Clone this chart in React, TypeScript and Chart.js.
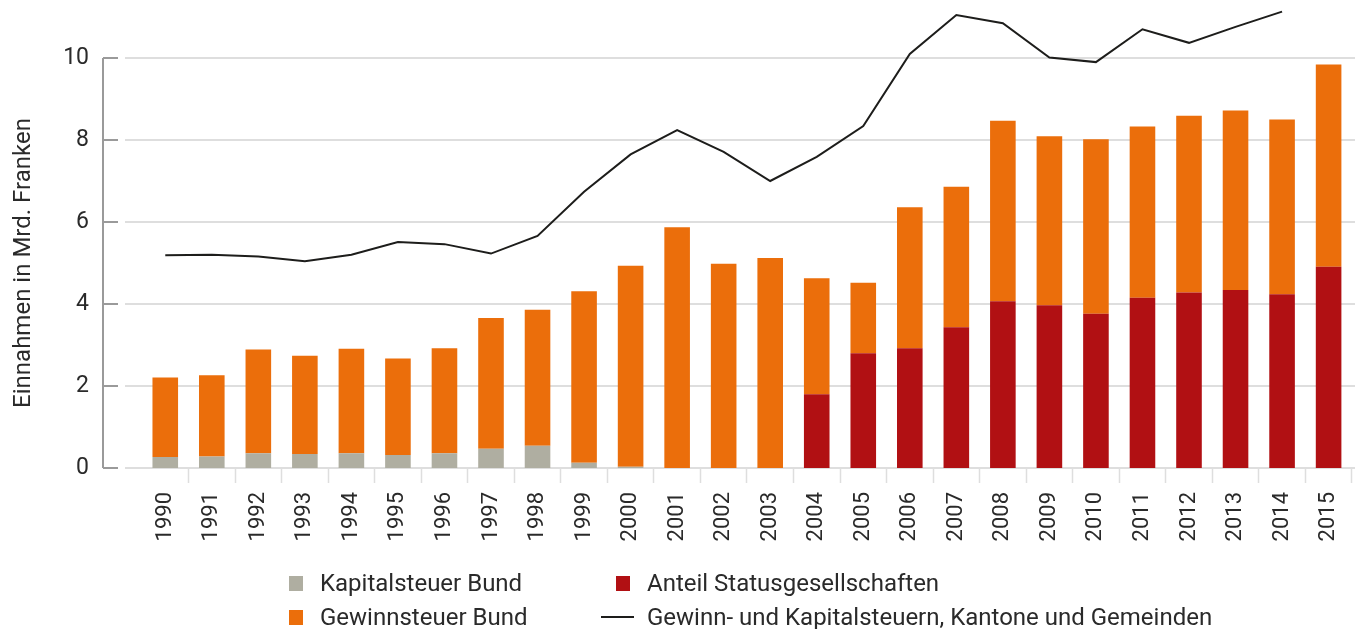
import React, { useEffect, useRef } from "react";
import { Chart, registerables } from "chart.js";

Chart.register(...registerables);

const years = [
  "1990", "1991", "1992", "1993", "1994", "1995", "1996", "1997", "1998", "1999",
  "2000", "2001", "2002", "2003", "2004", "2005", "2006", "2007", "2008", "2009",
  "2010", "2011", "2012", "2013", "2014", "2015",
];

// Kapitalsteuer Bund (grey, bottom of stack)
const kapitalsteuerBund = [
  0.27, 0.28, 0.36, 0.34, 0.36, 0.32, 0.36, 0.47, 0.54, 0.13,
  0.03, null, null, null, null, null, null, null, null, null,
  null, null, null, null, null, null,
];

// Anteil Statusgesellschaften (dark red, bottom of stack from 2004)
const anteilStatusgesellschaften = [
  null, null, null, null, null, null, null, null, null, null,
  null, null, null, null, 1.8, 2.8, 2.92, 3.43, 4.07, 3.97,
  3.76, 4.15, 4.28, 4.34, 4.24, 4.91,
];

// Gewinnsteuer Bund (orange, visible portion on top)
const gewinnsteuerBund = [
  1.94, 1.98, 2.53, 2.4, 2.55, 2.35, 2.56, 3.19, 3.32, 4.18,
  4.9, 5.87, 4.98, 5.12, 2.83, 1.72, 3.44, 3.43, 4.4, 4.12,
  4.26, 4.18, 4.31, 4.38, 4.26, 4.93,
];

// Gewinn- und Kapitalsteuern, Kantone und Gemeinden (line)
const kantoneGemeinden = [
  5.19, 5.2, 5.16, 5.04, 5.2, 5.51, 5.46, 5.23, 5.66, 6.74,
  7.65, 8.24, 7.71, 7.0, 7.59, 8.34, 10.1, 11.05, 10.85, 10.01,
  9.9, 10.7, 10.37, 10.76, 11.13, null,
];

const yTickValues = [0, 2, 4, 6, 8, 10];

const COLORS = {
  grey: "#afaea1",
  orange: "#eb6e0b",
  red: "#b11013",
  line: "#1d1d1b",
  grid: "#dedede",
  axis: "#9a9a9a",
  text: "#2a2a2a",
};

const FONT = "Roboto";

const axisDecor = {
  id: "axisDecor",
  beforeDatasetsDraw(chart: any) {
    const { ctx, chartArea } = chart;
    const y = chart.scales.y;
    const gridStart = chartArea.left - 17;
    const axisX = chartArea.left - 39;
    const stubEnd = chartArea.left - 24;
    ctx.save();
    ctx.lineWidth = 2;
    ctx.strokeStyle = COLORS.grid;
    y.ticks.forEach((t: any) => {
      const py = Math.round(y.getPixelForValue(t.value));
      ctx.beginPath();
      ctx.moveTo(gridStart, py);
      ctx.lineTo(chart.width, py);
      ctx.stroke();
    });
    ctx.strokeStyle = COLORS.axis;
    const top = Math.round(y.getPixelForValue(y.max));
    const bottom = Math.round(y.getPixelForValue(y.min));
    ctx.beginPath();
    ctx.moveTo(axisX, top);
    ctx.lineTo(axisX, bottom);
    ctx.stroke();
    y.ticks.forEach((t: any) => {
      const py = Math.round(y.getPixelForValue(t.value));
      ctx.beginPath();
      ctx.moveTo(axisX, py);
      ctx.lineTo(stubEnd, py);
      ctx.stroke();
    });
    ctx.restore();
  },
};

const legendItems = [
  { label: "Kapitalsteuer Bund", color: COLORS.grey, kind: "box", left: 289, top: 569 },
  { label: "Gewinnsteuer Bund", color: COLORS.orange, kind: "box", left: 289, top: 603 },
  { label: "Anteil Statusgesellschaften", color: COLORS.red, kind: "box", left: 616, top: 569 },
  { label: "Gewinn- und Kapitalsteuern, Kantone und Gemeinden", color: COLORS.line, kind: "line", left: 601, top: 603 },
];

export default function App() {
  const canvasRef = useRef<HTMLCanvasElement | null>(null);

  useEffect(() => {
    if (!canvasRef.current) return;
    const chart = new Chart(canvasRef.current, {
      type: "bar",
      data: {
        labels: years,
        datasets: [
          {
            type: "line",
            label: "Gewinn- und Kapitalsteuern, Kantone und Gemeinden",
            data: kantoneGemeinden,
            borderColor: COLORS.line,
            backgroundColor: COLORS.line,
            borderWidth: 2,
            pointRadius: 0,
            tension: 0,
            clip: false,
            stack: "line",
            order: 0,
          } as any,
          {
            type: "bar",
            label: "Kapitalsteuer Bund",
            data: kapitalsteuerBund,
            backgroundColor: COLORS.grey,
            stack: "bund",
            order: 1,
          },
          {
            type: "bar",
            label: "Anteil Statusgesellschaften",
            data: anteilStatusgesellschaften,
            backgroundColor: COLORS.red,
            stack: "bund",
            order: 1,
          },
          {
            type: "bar",
            label: "Gewinnsteuer Bund",
            data: gewinnsteuerBund,
            backgroundColor: COLORS.orange,
            stack: "bund",
            order: 1,
          },
        ],
      },
      options: {
        animation: false,
        responsive: true,
        maintainAspectRatio: false,
        layout: { padding: { top: 58, left: 0, right: 0, bottom: 86 } },
        datasets: { bar: { barPercentage: 0.55, categoryPercentage: 1 } },
        plugins: {
          legend: { display: false },
          tooltip: { enabled: false },
        },
        scales: {
          x: {
            stacked: true,
            offset: true,
            grid: {
              offset: true,
              drawOnChartArea: false,
              drawTicks: true,
              tickLength: 15,
              tickWidth: 1.5,
              tickColor: (ctx: any) => (ctx.index === 0 ? "rgba(0,0,0,0)" : COLORS.grid),
            },
            border: { display: false },
            ticks: {
              color: COLORS.text,
              font: { family: FONT, size: 22 },
              maxRotation: 90,
              minRotation: 90,
              padding: 9,
              autoSkip: false,
            },
            afterFit: (scale: any) => {
              scale.height = 75;
            },
          },
          y: {
            stacked: true,
            min: 0,
            max: 10,
            grid: { display: false, drawTicks: true, tickLength: 53 },
            border: { display: false },
            afterBuildTicks: (scale: any) => {
              scale.ticks = yTickValues.map((v) => ({ value: v }));
            },
            ticks: {
              color: COLORS.text,
              font: { family: FONT, size: 23 },
              padding: 0,
            },
            title: {
              display: true,
              text: "Einnahmen in Mrd. Franken",
              color: COLORS.text,
              font: { family: FONT, size: 24 },
              padding: { top: 10, bottom: 0 },
            },
            afterFit: (scale: any) => {
              scale.width = 142;
            },
          },
        },
      },
      plugins: [axisDecor],
    });
    return () => chart.destroy();
  }, []);

  return (
    <div style={{ position: "fixed", left: 0, top: 0, width: 1355, height: 629, background: "#fff", overflow: "hidden" }}>
      <div style={{ position: "absolute", left: 0, top: 0, width: 1364, height: 629 }}>
        <canvas ref={canvasRef} />
      </div>
      {legendItems.map((item) => (
        <div
          key={item.label}
          style={{
            position: "absolute",
            left: item.left,
            top: item.top,
            height: 28,
            display: "flex",
            alignItems: "center",
            fontFamily: FONT,
            fontSize: 24,
            color: COLORS.text,
            whiteSpace: "nowrap",
          }}
        >
          {item.kind === "box" ? (
            <span style={{ display: "inline-block", width: 14, height: 15, background: item.color, marginRight: 17 }} />
          ) : (
            <span style={{ display: "inline-block", width: 33, height: 2, background: item.color, marginRight: 13 }} />
          )}
          <span>{item.label}</span>
        </div>
      ))}
    </div>
  );
}
